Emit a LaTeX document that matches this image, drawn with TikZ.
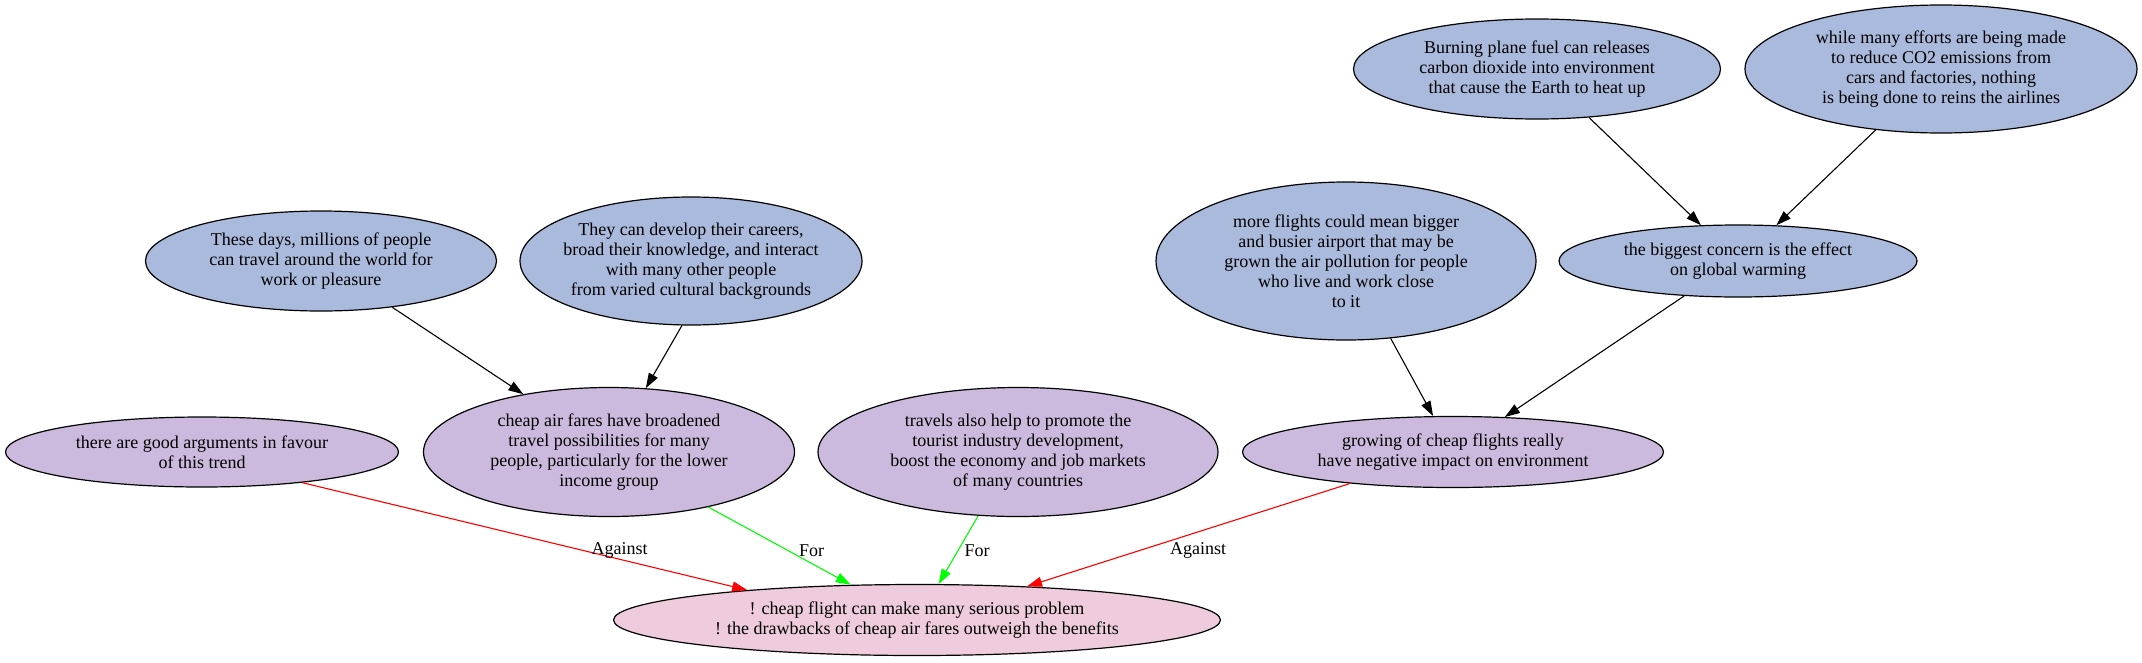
\documentclass[tikz,border=0pt]{standalone}
\usepackage{fontspec}
\setmainfont{Liberation Serif}
\usetikzlibrary{shapes.geometric,arrows.meta}

\definecolor{premiseblue}{RGB}{170,186,221}
\definecolor{claimlilac}{RGB}{203,186,221}
\definecolor{thesispink}{RGB}{238,203,221}

\begin{document}
\begin{tikzpicture}[
        x = 1pt, y = -1pt,
        line join=round,
        bubble/.style = {ellipse, draw=black, line width=1.2pt, inner sep=0pt, align=center, font=\fontsize{18}{20}\selectfont},
        premise/.style = {bubble, fill=premiseblue},
        claim/.style = {bubble, fill=claimlilac},
        thesis/.style = {bubble, fill=thesispink},
        link/.style = {line width=1.1pt, -{Triangle[length=15pt,width=10pt]}},
        pro/.style = {link, green},
        con/.style = {link, red},
        lbl/.style = {font=\fontsize{18}{20}\selectfont, inner sep=0pt, text=black}
    ]
        \useasboundingbox (0, 0) rectangle (2142, 662);

        \node[claim, minimum width=393pt, minimum height=70pt] (arg) at (202, 452) {there are good arguments in favour\\of this trend};
        \node[premise, minimum width=351pt, minimum height=100pt] (days) at (321, 261) {These days, millions of people\\can travel around the world for\\work or pleasure};
        \node[premise, minimum width=342pt, minimum height=128pt, inner xsep=-8pt] (career) at (691, 261) {They can develop their careers,\\broad their knowledge, and interact\\with many other people\\from varied cultural backgrounds};
        \node[claim, minimum width=371pt, minimum height=129pt] (fares) at (609, 452) {cheap air fares have broadened\\travel possibilities for many\\people, particularly for the lower\\income group};
        \node[claim, minimum width=400pt, minimum height=129pt] (travels) at (1018, 452) {travels also help to promote the\\tourist industry development,\\boost the economy and job markets\\of many countries};
        \node[claim, minimum width=421pt, minimum height=71pt] (growing) at (1453, 452) {growing of cheap flights really\\have negative impact on environment};
        \node[thesis, minimum width=607pt, minimum height=71pt] (problem) at (917, 620) {! cheap flight can make many serious problem\\! the drawbacks of cheap air fares outweigh the benefits};
        \node[premise, minimum width=367pt, minimum height=100pt] (fuel) at (1537, 69) {Burning plane fuel can releases\\carbon dioxide into environment\\that cause the Earth to heat up};
        \node[premise, minimum width=392pt, minimum height=128pt] (efforts) at (1941, 69) {while many efforts are being made\\to reduce CO2 emissions from\\cars and factories, nothing\\is being done to reins the airlines};
        \node[premise, minimum width=380pt, minimum height=158pt] (airport) at (1346, 261) {more flights could mean bigger\\and busier airport that may be\\grown the air pollution for people\\who live and work close\\to it};
        \node[premise, minimum width=358pt, minimum height=72pt] (warming) at (1738, 261) {the biggest concern is the effect\\on global warming};

        \draw[link] (days.-33) -- (fares.146.5);
        \draw[link] (career.-98.3) -- (fares.60.1);
        \draw[link] (airport.-60.8) -- (growing.119.7);
        \draw[link] (warming.213.7) -- (growing.34.5);
        \draw[link] (fuel.-43.3) -- (warming.136.6);
        \draw[link] (efforts.223.9) -- (warming.43);

        \draw[con] (arg.-17.9) -- node[lbl, pos=0.63, xshift=37pt] {Against} (problem.170.2);
        \draw[pro] (fares.-29.1) -- node[lbl, pos=0.557, xshift=24pt] {For} (problem.152.4);
        \draw[pro] (travels.238.6) -- node[lbl, pos=0.507, xshift=19pt] {For} (problem.59);
        \draw[con] (growing.197.4) -- node[lbl, pos=0.65, xshift=58pt] {Against} (problem.17.1);

    \end{tikzpicture}
\end{document}
